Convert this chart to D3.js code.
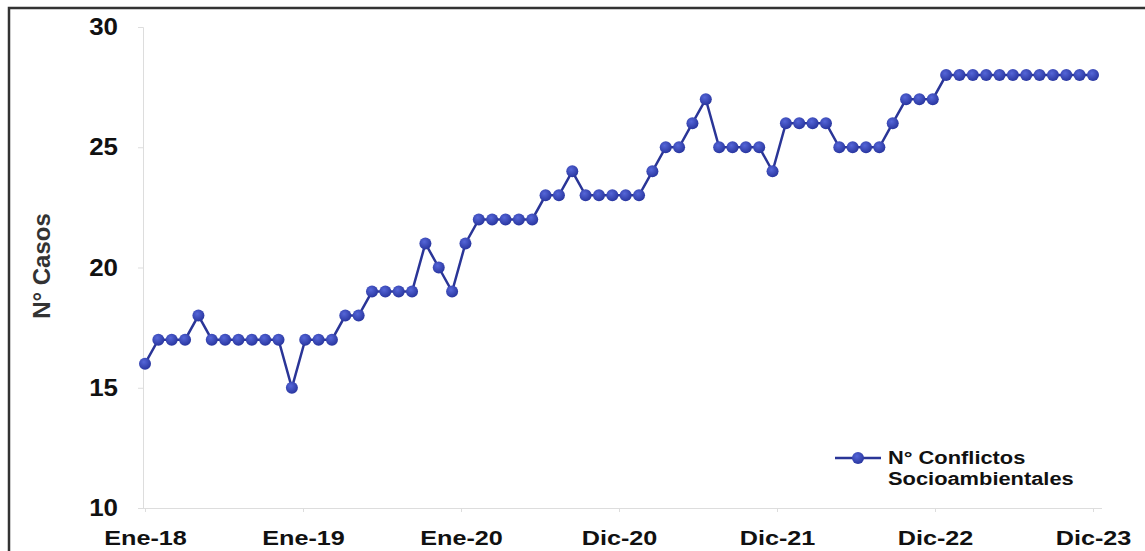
<!DOCTYPE html>
<html>
<head>
<meta charset="utf-8">
<script src="https://cdn.jsdelivr.net/npm/d3@7"></script>
<style>
  body { margin: 0; background: #fff; }
  svg { display: block; font-family: "Liberation Sans", Arial, sans-serif; }
</style>
</head>
<body>
<div id="chart"></div>
<script>
// monthly values, Ene-18 .. Dic-23
const casos = [
  16, 17, 17, 17, 18, 17, 17, 17, 17, 17, 17, 15,
  17, 17, 17, 18, 18, 19, 19, 19, 19, 21, 20, 19,
  21, 22, 22, 22, 22, 22, 23, 23, 24, 23, 23, 23,
  23, 23, 24, 25, 25, 26, 27, 25, 25, 25, 25, 24,
  26, 26, 26, 26, 25, 25, 25, 25, 26, 27, 27, 27,
  28, 28, 28, 28, 28, 28, 28, 28, 28, 28, 28, 28
];
const tickLabels = ["Ene-18", "Ene-19", "Ene-20", "Dic-20", "Dic-21", "Dic-22", "Dic-23"];
const yTicks = [10, 15, 20, 25, 30];
const seriesName = ["N° Conflictos", "Socioambientales"];

const W = 1145, H = 551;
const svg = d3.select("#chart").append("svg")
  .attr("width", W).attr("height", H);

// outer frame (right/bottom edges fall outside the picture)
svg.append("rect")
  .attr("x", 9).attr("y", 8)
  .attr("width", W + 20).attr("height", H + 20)
  .attr("fill", "none").attr("stroke", "#333").attr("stroke-width", 2.5);

const x = d3.scaleLinear().domain([0, casos.length - 1]).range([145, 1093]);
const y = d3.scaleLinear().domain([10, 30]).range([508, 27]);

// gradient for the markers
const grad = svg.append("defs").append("radialGradient")
  .attr("id", "dot").attr("cx", "40%").attr("cy", "35%").attr("r", "70%");
grad.append("stop").attr("offset", "0%").attr("stop-color", "#5566d8");
grad.append("stop").attr("offset", "100%").attr("stop-color", "#26339c");

// y axis
const yAxis = svg.append("g")
  .attr("transform", "translate(143,0)")
  .call(d3.axisLeft(y).tickValues(yTicks).tickSize(5).tickPadding(20));
yAxis.select(".domain").attr("stroke", "#ddd");
yAxis.selectAll(".tick line").attr("stroke", "#ddd");
yAxis.selectAll("text")
  .attr("font-size", 24).attr("font-weight", "bold").attr("fill", "#111")
  .attr("x", -25 / 1.08)
  .attr("transform", "scale(1.08,1)");

// x axis, labels spread evenly across the span
const labelPos = tickLabels.map((d, i) => i * (casos.length - 1) / (tickLabels.length - 1));
const xAxis = svg.append("g")
  .attr("transform", "translate(0,508)")
  .call(d3.axisBottom(x).tickValues(labelPos)
    .tickFormat((d, i) => tickLabels[i]).tickSize(4).tickPadding(18).tickSizeOuter(0));
xAxis.select(".domain").attr("stroke", "#ddd").attr("d", "M143,0.5H1102");
xAxis.selectAll(".tick line").attr("stroke", "#ddd");
xAxis.selectAll("text")
  .attr("font-size", 21).attr("font-weight", "bold").attr("fill", "#111")
  .attr("transform", "scale(1.2,1)");

// y title
svg.append("text")
  .attr("transform", "translate(50,266) rotate(-90)")
  .attr("text-anchor", "middle")
  .attr("font-size", 24).attr("font-weight", "bold").attr("fill", "#333")
  .text("N° Casos");

// series
const line = d3.line().x((d, i) => x(i)).y(d => y(d));
svg.append("path")
  .datum(casos)
  .attr("d", line)
  .attr("fill", "none").attr("stroke", "#2a3597").attr("stroke-width", 2.5);

svg.selectAll(".dot")
  .data(casos)
  .enter().append("circle")
  .attr("class", "dot")
  .attr("cx", (d, i) => x(i))
  .attr("cy", d => y(d))
  .attr("r", 6)
  .attr("fill", "url(#dot)");

// legend
const lg = svg.append("g").attr("transform", "translate(835,458)");
lg.append("line").attr("x1", 0).attr("x2", 46)
  .attr("stroke", "#2a3597").attr("stroke-width", 2.5);
lg.append("circle").attr("cx", 23).attr("r", 6).attr("fill", "url(#dot)");
lg.selectAll("text.lab")
  .data(seriesName)
  .enter().append("text")
  .attr("class", "lab")
  .attr("transform", (d, i) => `translate(53,${6 + i * 21}) scale(1.15,1)`)
  .attr("font-size", 19).attr("font-weight", "bold").attr("fill", "#111")
  .text(d => d);
</script>
</body>
</html>
